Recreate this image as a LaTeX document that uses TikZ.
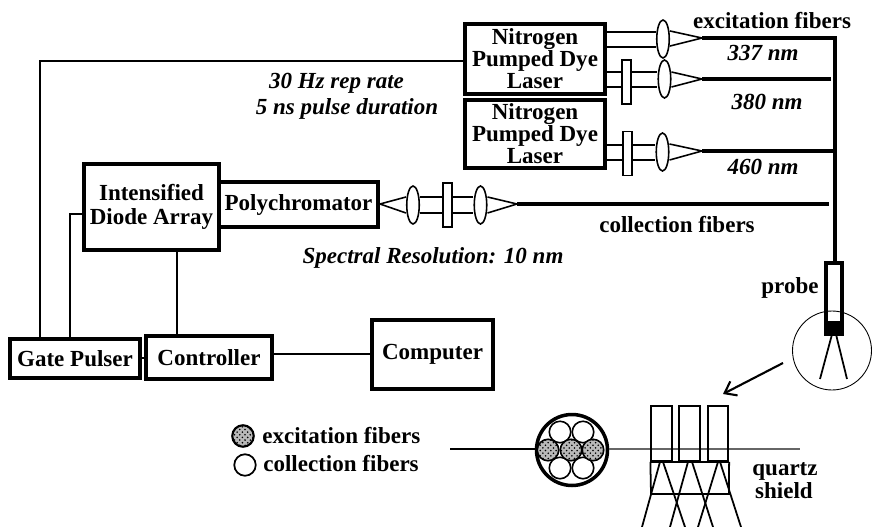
\documentclass[tikz,border=0pt]{standalone}
\usepackage{fontspec}
\setmainfont{Liberation Serif}
\usetikzlibrary{arrows.meta,positioning,shapes.geometric,patterns}

\begin{document}
\begin{tikzpicture}[x=0.02cm,y=-0.02cm,
  main node/.style={rectangle,draw,line width=1.9pt,inner sep=0pt,align=center,font=\fontsize{13.1}{12.5}\selectfont\bfseries},
  lens node/.style={ellipse,draw,line width=0.9pt,fill=white,inner sep=0pt,minimum width=0.25cm,minimum height=0.76cm},
  filter node/.style={rectangle,draw,line width=0.9pt,fill=white,inner sep=0pt,minimum width=0.17cm,minimum height=0.88cm},
  fiber end/.style={circle,draw,line width=0.9pt,fill=white,inner sep=0pt,minimum size=0.43cm},
  fiber core/.style={fiber end,preaction={fill=gray!55},pattern=crosshatch dots},
  shield tube/.style={rectangle,draw,line width=1pt,inner sep=0pt,minimum width=0.41cm,minimum height=1.1cm},
  bold label/.style={inner sep=0pt,font=\fontsize{13.1}{12.5}\selectfont\bfseries},
  rate label/.style={inner sep=0pt,font=\fontsize{13.1}{12.5}\selectfont\bfseries\itshape},
  thin line/.style={draw=black,line width=0.8pt},
  fiber line/.style={draw=black,line width=1.8pt},
  beam line/.style={draw=black,line width=0.9pt}]
\useasboundingbox (0,0) rectangle (872,527);
% boxes
\begin{scope}
\node[main node,minimum width=2.8cm,minimum height=1.4cm] (vLaserA) at (535,59) {Nitrogen\\Pumped Dye\\Laser};
\node[main node,minimum width=2.8cm,minimum height=1.36cm] (vLaserB) at (535,134) {Nitrogen\\Pumped Dye\\Laser};
\node[main node,minimum width=2.7cm,minimum height=1.72cm] (vDiode) at (151.5,207) {Intensified\\[1.5pt]Diode Array};
\node[main node,minimum width=3.18cm,minimum height=0.9cm] (vPoly) at (298.5,204.5) {Polychromator};
\node[main node,minimum width=2.6cm,minimum height=0.78cm] (vGate) at (75,358.5) {Gate Pulser};
\node[main node,minimum width=2.52cm,minimum height=0.86cm] (vControl) at (209,357.5) {Controller};
\node[main node,minimum width=2.42cm,minimum height=1.38cm] (vComputer) at (432.5,354.5) {Computer};
\end{scope}
% optics
\begin{scope}
\node[lens node] (vLensA) at (663,39) {};
\node[lens node] (vLensB) at (664.5,79) {};
\node[lens node] (vLensC) at (662.5,152) {};
\node[lens node] (vLensD) at (480.5,205) {};
\node[lens node] (vLensE) at (413,205) {};
\node[filter node] (vFilterB) at (626.5,82) {};
\node[filter node] (vFilterC) at (627.5,153.5) {};
\node[filter node] (vFilterD) at (447.5,205) {};
\coordinate (vTipA) at (702,38);
\coordinate (vTipB) at (702,79);
\coordinate (vTipC) at (702,151);
\coordinate (vTipD) at (517,204);
\coordinate (vTipE) at (380,204);
\end{scope}
% beams
\begin{scope}[every path/.style={beam line}]
\draw (vLaserA.east |- 0,32) -- (vLensA.west |- 0,32);
\draw (vLaserA.east |- 0,47) -- (vLensA.west |- 0,47);
\draw (vLaserA.east |- 0,72) -- (vFilterB.west |- 0,72);
\draw (vLaserA.east |- 0,87) -- (vFilterB.west |- 0,87);
\draw (vFilterB.east |- 0,72) -- (vLensB.west |- 0,72);
\draw (vFilterB.east |- 0,87) -- (vLensB.west |- 0,87);
\draw (vLaserB.east |- 0,145) -- (vFilterC.west |- 0,145);
\draw (vLaserB.east |- 0,160) -- (vFilterC.west |- 0,160);
\draw (vFilterC.east |- 0,145) -- (vLensC.west |- 0,145);
\draw (vFilterC.east |- 0,160) -- (vLensC.west |- 0,160);
\draw (vLensE.east |- 0,197) -- (vFilterD.west |- 0,197);
\draw (vLensE.east |- 0,213) -- (vFilterD.west |- 0,213);
\draw (vFilterD.east |- 0,197) -- (vLensD.west |- 0,197);
\draw (vFilterD.east |- 0,213) -- (vLensD.west |- 0,213);
\draw (vLensA.east |- 0,31) -- (vTipA) -- (vLensA.east |- 0,46);
\draw (vLensB.east |- 0,72) -- (vTipB) -- (vLensB.east |- 0,87);
\draw (vLensC.east |- 0,144) -- (vTipC) -- (vLensC.east |- 0,160);
\draw (vLensD.east |- 0,197) -- (vTipD) -- (vLensD.east |- 0,213);
\draw (vLensE.west |- 0,197) -- (vTipE) -- (vLensE.west |- 0,213);
\end{scope}
% fibers
\coordinate (vBendA) at (835,38);
\coordinate (vJoinB) at (831,79);
\coordinate (vJoinC) at (835,151);
\coordinate (vJoinD) at (829,204);
\node[rectangle,draw,line width=2pt,inner sep=0pt,minimum width=0.32cm,minimum height=1.42cm] (vProbe) at (834,298.5) {};
\node[rectangle,fill=black,inner sep=0pt,minimum width=0.32cm,minimum height=0.26cm] (vProbeEnd) at (834,327.5) {};
\begin{scope}[every path/.style={fiber line}]
\draw (vTipA) -- (vBendA) -- (vProbe.north -| vBendA);
\draw (vTipB) -- (vJoinB);
\draw (vTipC) -- (vJoinC);
\draw (vTipD) -- (vJoinD);
\end{scope}
% electronics
\begin{scope}[every path/.style={thin line}]
\draw (vLaserA.west |- 0,61) -- (40,61) -- (vGate.north -| 40,0);
\draw (vDiode.west |- 0,214) -- (70,214) -- (vGate.north -| 70,0);
\draw (vDiode.south -| 177,0) -- (vControl.north -| 177,0);
\draw (vGate.east |- 0,358) -- (vControl.west |- 0,358);
\draw (vControl.east |- 0,354) -- (vComputer.west |- 0,354);
\end{scope}
% probe tip and shield
\node[circle,draw,line width=0.5pt,inner sep=0pt,minimum size=1.58cm] (vTipCircle) at (832,350.5) {};
\coordinate (vLegA) at (820,379);
\coordinate (vLegB) at (847,379);
\draw[line width=1pt] (vProbeEnd.south -| 832,0) -- (vLegA);
\draw[line width=1pt] (vProbeEnd.south -| 836,0) -- (vLegB);
\coordinate (vArrowFrom) at (783,363);
\coordinate (vArrowTo) at (723,394);
\draw[line width=1.2pt,-{Straight Barb[length=6pt,width=9pt]}] (vArrowFrom) -- (vArrowTo);
% cross section
\node[circle,draw,line width=2pt,fill=white,inner sep=0pt,minimum size=1.42cm] (vBundle) at (572,450) {};
\node[fiber end] (vEndA) at (560,432) {};
\node[fiber end] (vEndB) at (583,432) {};
\node[fiber end] (vEndC) at (560,468) {};
\node[fiber end] (vEndD) at (583,468) {};
\node[fiber core] (vCoreA) at (548,450) {};
\node[fiber core] (vCoreB) at (571,450) {};
\node[fiber core] (vCoreC) at (593,450) {};
\coordinate (vCutL) at (450,449);
\coordinate (vCutR) at (800,449);
\draw[line width=0.6pt] (vCutL) -- (vBundle.west |- vCutL);
\draw[line width=0.6pt,black!60] (vBundle.east |- vCutR) -- (vCutR);
% shield
\node[shield tube] (vTubeA) at (661.5,433.5) {};
\node[shield tube] (vTubeB) at (689.5,433.5) {};
\node[shield tube] (vTubeC) at (718,433.5) {};
\draw[line width=1pt] (vTubeA.south west) -- (651,494) -- (729,494) -- (vTubeC.south east);
\draw[line width=1.5pt] (vTubeA.south west) -- (vTubeC.south east);
\draw[line width=1pt] (vTubeA.south -| 660,0) -- (642,527);
\draw[line width=1pt] (vTubeA.south -| 663,0) -- (685,527);
\draw[line width=1pt] (vTubeB.south -| 688,0) -- (670,527);
\draw[line width=1pt] (vTubeB.south -| 692,0) -- (713,527);
\draw[line width=1pt] (vTubeC.south -| 718,0) -- (698,527);
\draw[line width=1pt] (vTubeC.south -| 720,0) -- (741,527);
% legend
\node[fiber core,line width=1.2pt] (vKeyA) at (243,436) {};
\node[fiber end,line width=1pt] (vKeyB) at (245,465) {};
\node[bold label,anchor=west] (tKeyA) at (262,436) {excitation fibers};
\node[bold label,anchor=west] (tKeyB) at (263,464) {collection fibers};
% labels
\begin{scope}
\node[bold label] (tExcite) at (772,21) {excitation fibers};
\node[bold label] (tCollect) at (677,225) {collection fibers};
\node[bold label] (tProbe) at (790,288) {probe};
\node[bold label] (tQuartz) at (785,471) {quartz};
\node[bold label] (tShield) at (784,491) {shield};
\node[rate label] (tA) at (763,53) {337 nm};
\node[rate label] (tB) at (767,102) {380 nm};
\node[rate label] (tC) at (763,167) {460 nm};
\node[rate label] (tRate) at (336.5,83) {30 Hz rep rate};
\node[rate label] (tPulse) at (347,109) {5 ns pulse duration};
\node[rate label] (tSpec) at (433,258) {Spectral Resolution: 10 nm};
\end{scope}
\end{tikzpicture}
\end{document}
